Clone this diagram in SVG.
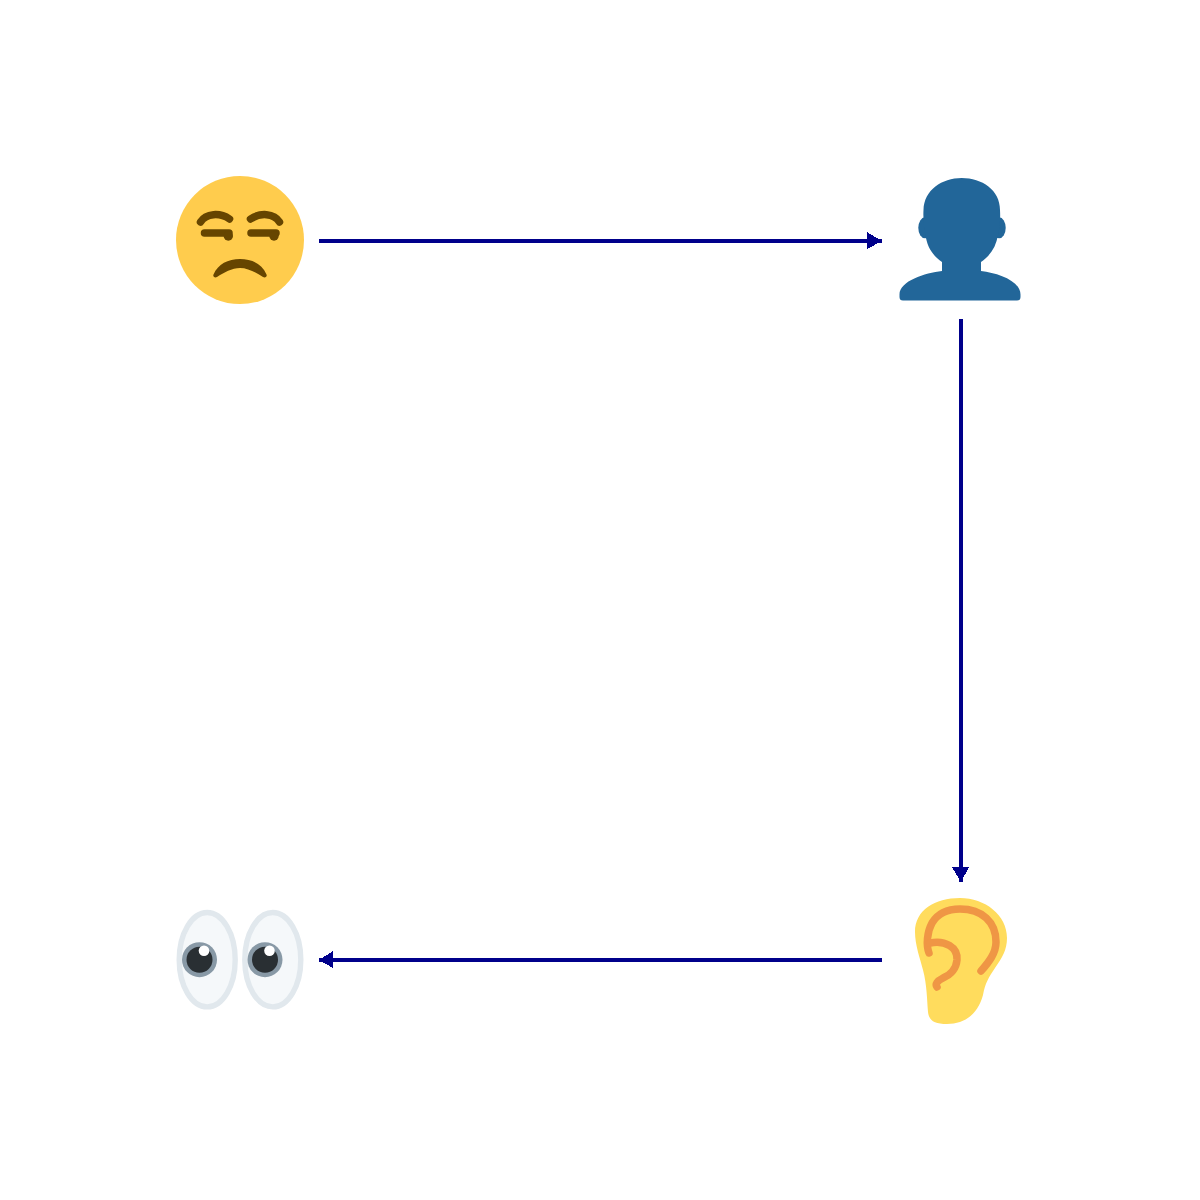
<svg xmlns="http://www.w3.org/2000/svg" width="1200" height="1200" viewBox="0 0 1200 1200">
<style>
.edge{fill:none;stroke:#00008b;stroke-width:4;shape-rendering:crispEdges}
.head{fill:#00008b;shape-rendering:crispEdges}
.brow{fill:none;stroke:#664500;stroke-width:7.500;stroke-linecap:round}
.dark{fill:#664500}
.eye{fill:#f5f8fa;stroke:#e1e8ed;stroke-width:5.400}
.iris{fill:#8899a6}.pupil{fill:#292f33}.glint{fill:#fff}
.blue{fill:#226699}
.ear{fill:none;stroke:#ef9645;stroke-width:7.500;stroke-linecap:round;stroke-linejoin:round}
</style>
<rect width="1200" height="1200" fill="#fff"/>
<g id="connectors">
<path class="edge" d="M319 241H882"/><path class="head" d="M867 232L882 241L867 249Z"/>
<path class="edge" d="M961 319V882"/><path class="head" d="M952 867H969L961 882Z"/>
<path class="edge" d="M882 960H319"/><path class="head" d="M333 951V968L319 960Z"/>
</g>
<g id="face">
<circle cx="240" cy="240" r="64" fill="#ffcc4d"/>
<path class="brow" d="M200.500 222C206 213 220 212.500 229.500 219"/>
<path class="brow" d="M250.500 219C260 212.500 274 213 279.500 222"/>
<path class="brow" d="M204.500 233H229"/>
<path class="brow" d="M251 233H276"/>
<circle class="dark" cx="228.300" cy="236" r="4.700"/>
<circle class="dark" cx="274" cy="236" r="4.700"/>
<path class="dark" d="M213.500 274.500C218 264 228 259 240 259C252 259 262 264 266.500 274.500C267.500 277 265 278 263 277C256 272.500 248 268 240 268C232 268 224 272.500 217 277C215 278 212.500 277 213.500 274.500Z"/>
</g>
<g id="person">
<ellipse class="blue" cx="925" cy="227.800" rx="6.700" ry="10.500"/>
<ellipse class="blue" cx="999.200" cy="227.800" rx="6.500" ry="10.500"/>
<path class="blue" d="M942 262C933 256 927 247 925.500 235C924 228 923 218 923.500 210C924 190 942 178 961.700 178C982 178 1000 190 1000 210C1000.500 218 1000 228 998 235C996 247 990 256 981 262V271C998 273 1021 281 1020.500 295V297Q1020.500 300.500 1017 300.500H903Q899.500 300.500 899.500 297V295C899 281 925 273 942 271Z"/>
</g>
<g id="ear">
<path fill="#ffdc5d" d="M960 898C935 898 915 910 915 932C915 945 920 958 923 970C927 985 927 1000 928 1012C929 1021 935 1024 947 1024C965 1024 978 1014 983 995C985 983 989 977 995 968C1002 958 1007 950 1007 938C1007 915 985 898 960 898Z"/>
<path class="ear" d="M929 953C926 945 927 932 932 923C938 913 948 909 960 909C982 909 996 922 996 942C996 953 989 962 981 971"/>
<path class="ear" d="M930 943C945 940 958 947 957 960C956 970 950 975 943 978C937 981 935 984 937 987"/>
</g>
<g id="eyes">
<ellipse class="eye" cx="207.200" cy="959.700" rx="28" ry="47.200"/>
<ellipse class="eye" cx="272.800" cy="959.700" rx="28" ry="47.200"/>
<circle class="iris" cx="199.500" cy="959.700" r="17.500"/><circle class="pupil" cx="199.500" cy="959.700" r="13"/><circle class="glint" cx="204" cy="950.800" r="5.300"/>
<circle class="iris" cx="265" cy="959.700" r="17.500"/><circle class="pupil" cx="265" cy="959.700" r="13"/><circle class="glint" cx="269.500" cy="950.800" r="5.300"/>
</g>
</svg>
